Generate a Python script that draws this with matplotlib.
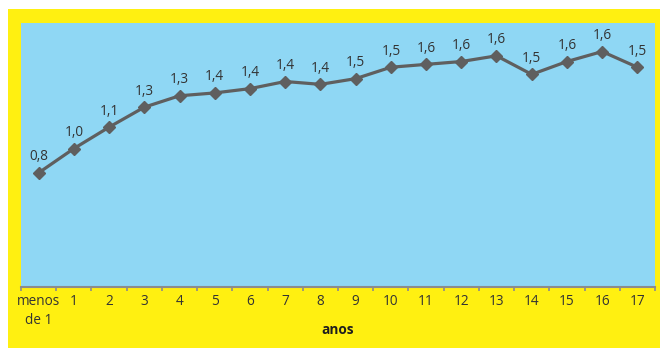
import numpy as np
import matplotlib.pyplot as plt
from matplotlib.patches import Rectangle

# categories (age in years) and mean values
categorias = ['menos\nde 1', '1', '2', '3', '4', '5', '6', '7', '8', '9',
              '10', '11', '12', '13', '14', '15', '16', '17']
valores = [0.80, 0.97, 1.12, 1.26, 1.34, 1.36, 1.39, 1.44, 1.42, 1.46,
           1.54, 1.56, 1.58, 1.62, 1.49, 1.58, 1.65, 1.54]

amarelo = '#FFF011'
azul = '#8FD7F4'
cinza = '#5F5F5F'
texto = '#333333'

plt.rcParams['font.family'] = ['Open Sans', 'DejaVu Sans']

fig = plt.figure(figsize=(6.6, 3.48), dpi=100)
fig.patch.set_facecolor('white')
# yellow frame behind the chart
fig.add_artist(Rectangle((8 / 660, 0), 1 - 8 / 660, 1 - 9 / 348,
                         transform=fig.transFigure, facecolor=amarelo,
                         edgecolor='none', zorder=-5))

ax = fig.add_axes([21 / 660, 1 - 287 / 348, 634 / 660, 264 / 348])
ax.set_zorder(1)
ax.set_facecolor(azul)

x = np.arange(len(categorias))
ax.plot(x, valores, color=cinza, lw=2.3, marker='D', markersize=6,
        markerfacecolor=cinza, markeredgecolor=cinza, zorder=3)

for xi, v in zip(x, valores):
    ax.annotate(f'{v:.1f}'.replace('.', ','), (xi, v), xytext=(0, 9),
                textcoords='offset points', ha='center', va='baseline',
                fontsize=9.8, color=texto)

ax.set_xlim(-0.5, len(categorias) - 0.5)
ax.set_ylim(0, 1.85)
ax.set_yticks([])

ax.set_xticks(x)
ax.set_xticklabels(categorias, fontsize=9.8, color=texto, linespacing=1.4)
ax.set_xticks(np.arange(-0.5, len(categorias)), minor=True)
ax.tick_params(axis='x', which='major', length=0, pad=5)
ax.tick_params(axis='x', which='minor', length=3, color='#8C8C8C', width=1.2)

for s in ['top', 'left', 'right']:
    ax.spines[s].set_visible(False)
ax.spines['bottom'].set_color('#8C8C8C')
ax.spines['bottom'].set_linewidth(1.5)

ax.set_xlabel('anos', fontsize=9.8, fontweight='bold', color='#1E1E1E', labelpad=-4)

fig.savefig('out.png', dpi=100, facecolor=fig.get_facecolor())
